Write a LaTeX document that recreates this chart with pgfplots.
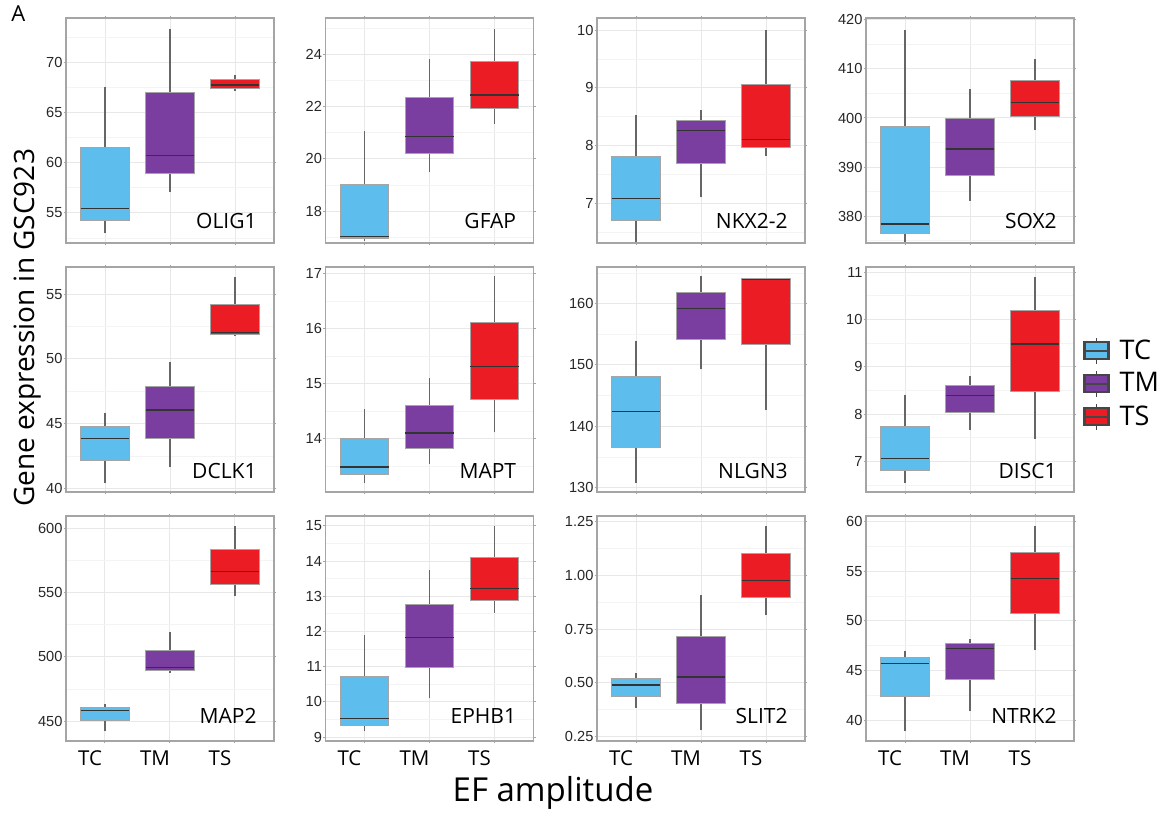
\documentclass[border=0pt]{standalone}
\usepackage{fontspec}
\setmainfont{Open Sans}
\newfontfamily\arialf{Liberation Sans}
\usepackage{pgfplots}
\pgfplotsset{compat=1.18}
\definecolor{tc}{RGB}{93,190,237}
\definecolor{tm}{RGB}{122,61,160}
\definecolor{ts}{RGB}{236,28,36}
\definecolor{gridmaj}{RGB}{232,232,232}
\definecolor{gridmin}{RGB}{244,244,244}
\definecolor{framec}{RGB}{165,165,165}
\definecolor{boxline}{RGB}{165,165,165}
\definecolor{legline}{RGB}{70,70,70}
\pgfplotsset{
  panel/.style={
    scale only axis, width=104pt, height=112.5pt,
    anchor=north west,
    xmin=0.4, xmax=3.6, xtick={1,2,3}, xticklabels={},
    axis line style={draw=framec, line width=0.7pt},
    tick align=outside, major tick length=1.2pt, minor tick length=0pt,
    tick style={draw=framec, line width=0.5pt},
    xmajorgrids, ymajorgrids, yminorgrids,
    major grid style={draw=gridmaj, line width=0.5pt},
    minor grid style={draw=gridmin, line width=0.4pt},
    yticklabel style={font=\arialf\fontsize{7.3}{8}\selectfont, text=black!85, inner sep=0pt, xshift=-0.4pt},
    xticklabel style={font=\fontsize{10.25}{12}\selectfont, text=black, inner sep=0pt, anchor=north, yshift=-3.6pt, xshift=-7.5pt},
    /pgf/number format/assume math mode=true,
  },
  bottomrow/.style={xticklabels={TC,TM,TS}},
}
% #1 left #2 centre #3 right #4 colour #5 lower whisker #6 lower quartile #7 median #8 upper quartile #9 upper whisker
\newcommand{\bx}[9]{%
\addplot[draw=black!60, line width=0.55pt, forget plot] coordinates {(#2,#8) (#2,#9)};
\addplot[draw=black!60, line width=0.55pt, forget plot] coordinates {(#2,#5) (#2,#6)};
\addplot[fill=#4, draw=boxline, line width=0.5pt, forget plot] coordinates {(#1,#6) (#3,#6) (#3,#8) (#1,#8)} -- cycle;
\addplot[draw=black!80, line width=0.75pt, forget plot] coordinates {(#1,#7) (#3,#7)};
}
\newcommand{\TC}[5]{\bx{0.625}{1}{1.375}{tc}{#1}{#2}{#3}{#4}{#5}}
\newcommand{\TM}[5]{\bx{1.625}{2}{2.375}{tm}{#1}{#2}{#3}{#4}{#5}}
\newcommand{\TS}[5]{\bx{2.625}{3}{3.375}{ts}{#1}{#2}{#3}{#4}{#5}}
\newcommand{\gene}[2]{\node[anchor=base east, font=\fontsize{10.5}{12}\selectfont, inner sep=0pt] at (rel axis cs:1,0) [xshift=-8.5pt, yshift=#2] {#1};}
\newcommand{\legkey}[1]{\addlegendimage{legend image code/.code={
  \draw[draw=legline, line width=0.9pt] (6pt,-6.5pt) -- (6pt,6.5pt);
  \filldraw[fill=#1, draw=legline, line width=1.1pt] (0pt,-4.3pt) rectangle (12pt,4.3pt);
  \draw[draw=legline, line width=1.1pt] (0pt,0pt) -- (12pt,0pt);}}}
\begin{document}
\begin{tikzpicture}
\useasboundingbox (0,0) rectangle (581pt,-406.5pt);
% Row 1
\begin{axis}[panel, at={(33pt,-9pt)}, ymin=52.0, ymax=74.4, ytick={55,60,65,70}, minor ytick={52.5,57.5,62.5,67.5,72.5}]
\TC{52.96}{54.2}{55.45}{61.5}{67.5}
\TM{57.1}{58.9}{60.7}{67.0}{73.3}
\TS{67.1}{67.4}{67.74}{68.24}{68.7}
\gene{OLIG1}{7.2pt}
\end{axis}
\begin{axis}[panel, at={(162.75pt,-9pt)}, ymin=16.78, ymax=25.39, ytick={18,20,22,24}, minor ytick={17,19,21,23,25}]
\TC{16.85}{16.95}{17.03}{19.03}{21.05}
\TM{19.50}{20.19}{20.86}{22.36}{23.84}
\TS{21.35}{21.91}{22.45}{23.71}{24.95}
\gene{GFAP}{7.2pt}
\end{axis}
\begin{axis}[panel, at={(298.5pt,-9pt)}, ymin=6.31, ymax=10.21, ytick={7,8,9,10}, minor ytick={6.5,7.5,8.5,9.5}]
\TC{6.32}{6.70}{7.08}{7.81}{8.53}
\TM{7.10}{7.69}{8.26}{8.44}{8.62}
\TS{7.82}{7.96}{8.10}{9.06}{10.01}
\gene{NKX2-2}{7.2pt}
\end{axis}
\begin{axis}[panel, at={(433pt,-9pt)}, ymin=374.56, ymax=420.35, ytick={380,390,400,410,420}, minor ytick={375,385,395,405,415}]
\TC{374.8}{376.5}{378.4}{398.2}{418.0}
\TM{383.1}{388.3}{393.7}{399.8}{405.9}
\TS{397.5}{400.4}{403.2}{407.6}{412.0}
\gene{SOX2}{7.2pt}
\end{axis}
% Row 2
\begin{axis}[panel, at={(33pt,-133.5pt)}, ymin=39.72, ymax=57.09, ytick={40,45,50,55}, minor ytick={42.5,47.5,52.5}]
\TC{40.44}{42.17}{43.85}{44.80}{45.81}
\TM{41.68}{43.85}{46.04}{47.88}{49.74}
\TS{51.8}{51.9}{52.03}{54.17}{56.32}
\gene{DCLK1}{6.8pt}
\end{axis}
\begin{axis}[panel, at={(162.75pt,-133.5pt)}, ymin=13.03, ymax=17.12, ytick={14,15,16,17}, minor ytick={13.5,14.5,15.5,16.5}]
\TC{13.20}{13.34}{13.48}{14.0}{14.54}
\TM{13.54}{13.82}{14.10}{14.60}{15.10}
\TS{14.12}{14.71}{15.31}{16.12}{16.95}
\gene{MAPT}{6.8pt}
\end{axis}
\begin{axis}[panel, at={(298.5pt,-133.5pt)}, ymin=129.29, ymax=165.97, ytick={130,140,150,160}, minor ytick={135,145,155,165}]
\TC{130.82}{136.57}{142.38}{148.12}{153.92}
\TM{149.27}{154.2}{159.18}{161.75}{164.43}
\TS{142.6}{153.27}{163.94}{164.05}{164.2}
\gene{NLGN3}{6.8pt}
\end{axis}
\begin{axis}[panel, at={(433pt,-133.5pt)}, ymin=6.35, ymax=11.11, ytick={7,8,9,10,11}, minor ytick={6.5,7.5,8.5,9.5,10.5},
  legend style={at={(1.0433,0.481)}, anchor=west, draw=none, fill=none, inner sep=0pt,
    font=\fontsize{13.5}{15}\selectfont, nodes={inner sep=0pt}, column sep=5pt, row sep=2.6pt},
  legend cell align=left]
\TC{6.55}{6.81}{7.06}{7.73}{8.40}
\TM{7.66}{8.04}{8.39}{8.60}{8.81}
\TS{7.47}{8.47}{9.48}{10.19}{10.89}
\gene{DISC1}{6.8pt}
\legkey{tc}
\addlegendentry{TC}
\legkey{tm}
\addlegendentry{TM}
\legkey{ts}
\addlegendentry{TS}
\end{axis}
% Row 3
\begin{axis}[panel, bottomrow, at={(33pt,-258pt)}, ymin=434.4, ymax=609.9, ytick={450,500,550,600}, minor ytick={475,525,575}]
\TC{442.2}{450.3}{458.1}{460.7}{463.0}
\TM{487.5}{489.5}{491.6}{505.1}{519.2}
\TS{547.2}{556.6}{566.5}{583.9}{601.8}
\gene{MAP2}{9pt}
\end{axis}
\begin{axis}[panel, bottomrow, at={(162.75pt,-258pt)}, ymin=8.89, ymax=15.28, ytick={9,10,11,12,13,14,15}, minor ytick={9.5,10.5,11.5,12.5,13.5,14.5}]
\TC{9.17}{9.34}{9.53}{10.73}{11.91}
\TM{10.10}{10.97}{11.83}{12.78}{13.76}
\TS{12.53}{12.89}{13.22}{14.10}{15.0}
\gene{EPHB1}{9pt}
\end{axis}
\begin{axis}[panel, bottomrow, at={(298.5pt,-258pt)}, ymin=0.23, ymax=1.275, ytick={0.25,0.50,0.75,1.00,1.25}, minor ytick={0.375,0.625,0.875,1.125},
  yticklabel style={/pgf/number format/.cd, fixed, fixed zerofill, precision=2}]
\TC{0.385}{0.437}{0.489}{0.518}{0.547}
\TM{0.279}{0.403}{0.527}{0.716}{0.906}
\TS{0.813}{0.895}{0.976}{1.10}{1.227}
\gene{SLIT2}{9pt}
\end{axis}
\begin{axis}[panel, bottomrow, at={(433pt,-258pt)}, ymin=37.92, ymax=60.54, ytick={40,45,50,55,60}, minor ytick={42.5,47.5,52.5,57.5}]
\TC{38.93}{42.35}{45.70}{46.33}{46.97}
\TM{40.94}{44.12}{47.20}{47.71}{48.21}
\TS{47.04}{50.72}{54.27}{56.88}{59.50}
\gene{NTRK2}{9pt}
\end{axis}
% Titles
\node[rotate=90, anchor=base, font=\fontsize{14}{16}\selectfont, inner sep=0pt] at (17pt,-164pt) {Gene expression in GSC923};
\node[anchor=base, font=\fontsize{16.5}{19}\selectfont, inner sep=0pt] at (276.5pt,-400.75pt) {EF amplitude};
\node[anchor=base west, font=\fontsize{11}{13}\selectfont, inner sep=0pt] at (5.5pt,-11pt) {A};
\end{tikzpicture}
\end{document}
